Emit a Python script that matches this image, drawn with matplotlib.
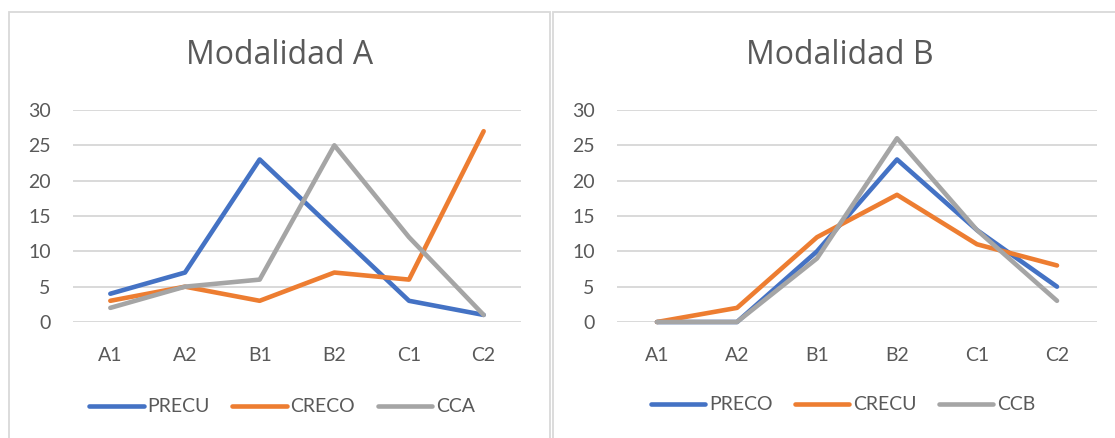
import matplotlib
matplotlib.use("Agg")
import matplotlib.pyplot as plt
from matplotlib.patches import Rectangle

categorias = ["A1", "A2", "B1", "B2", "C1", "C2"]

# Modalidad A
series_a = ["PRECU", "CRECO", "CCA"]
precu_a = [4, 7, 23, 13, 3, 1]
creco_a = [3, 5, 3, 7, 6, 27]
cca_a = [2, 5, 6, 25, 12, 1]

# Modalidad B
series_b = ["PRECO", "CRECU", "CCB"]
preco_b = [0, 0, 10, 23, 13, 5]
crecu_b = [0, 2, 12, 18, 11, 8]
ccb_b = [0, 0, 9, 26, 13, 3]

colores = ["#4472C4", "#ED7D31", "#A5A5A5"]
TXT = "#595959"
GRID = "#D9D9D9"

W, H = 1115, 438
fig = plt.figure(figsize=(W / 100, H / 100), dpi=100)
fig.patch.set_facecolor("white")


def px(x0, y_top, x1, y_bot):
    # pixel box -> figure fraction [left, bottom, width, height]
    return [x0 / W, (H - y_bot) / H, (x1 - x0) / W, (y_bot - y_top) / H]


def panel(rect, titulo, tx, nombres, datos, leg_x, leg_y):
    ax = fig.add_axes(rect)
    for nombre, vals, c in zip(nombres, datos, colores):
        ax.plot(range(len(categorias)), vals, color=c, lw=3.3, label=nombre,
                solid_capstyle="round", solid_joinstyle="round", clip_on=False,
                zorder=3)
    ax.set_xlim(-0.5, len(categorias) - 0.5)
    ax.set_ylim(0, 30)
    ax.set_yticks(range(0, 31, 5))
    ax.set_xticks(range(len(categorias)))
    ax.set_xticklabels(categorias)
    ax.yaxis.grid(True, color=GRID, lw=1.4)
    ax.set_axisbelow(True)
    for s in ax.spines.values():
        s.set_visible(False)
    ax.tick_params(length=0, colors=TXT, labelsize=14)
    ax.tick_params(axis="x", pad=18)
    ax.tick_params(axis="y", pad=16)
    for lab in ax.get_xticklabels() + ax.get_yticklabels():
        lab.set_fontfamily("Lato")
    fig.text(tx / W, (H - 55) / H, titulo, ha="center", va="center",
             fontsize=23, color=TXT, family="Open Sans")
    fig.legend(handles=ax.get_lines(), loc="center",
               bbox_to_anchor=(leg_x / W, (H - leg_y) / H), ncol=3,
               frameon=False, handlelength=2.8, handletextpad=0.2,
               columnspacing=1.15, prop={"family": "Lato", "size": 14},
               labelcolor=TXT)
    return ax


# chart frames
for x0, x1 in [(8.5, 550), (553, 1140)]:
    fig.patches.append(Rectangle((x0 / W, -0.1), (x1 - x0) / W, (H - 11.5) / H + 0.1,
                                 transform=fig.transFigure, fill=False,
                                 edgecolor=GRID, lw=1.3))

panel(px(73, 110, 521, 322), "Modalidad A", 280, series_a,
      [precu_a, creco_a, cca_a], 282, 407)
panel(px(617, 110, 1097, 322), "Modalidad B", 840, series_b,
      [preco_b, crecu_b, ccb_b], 843, 405)

fig.savefig("out.png", dpi=100, facecolor="white")
